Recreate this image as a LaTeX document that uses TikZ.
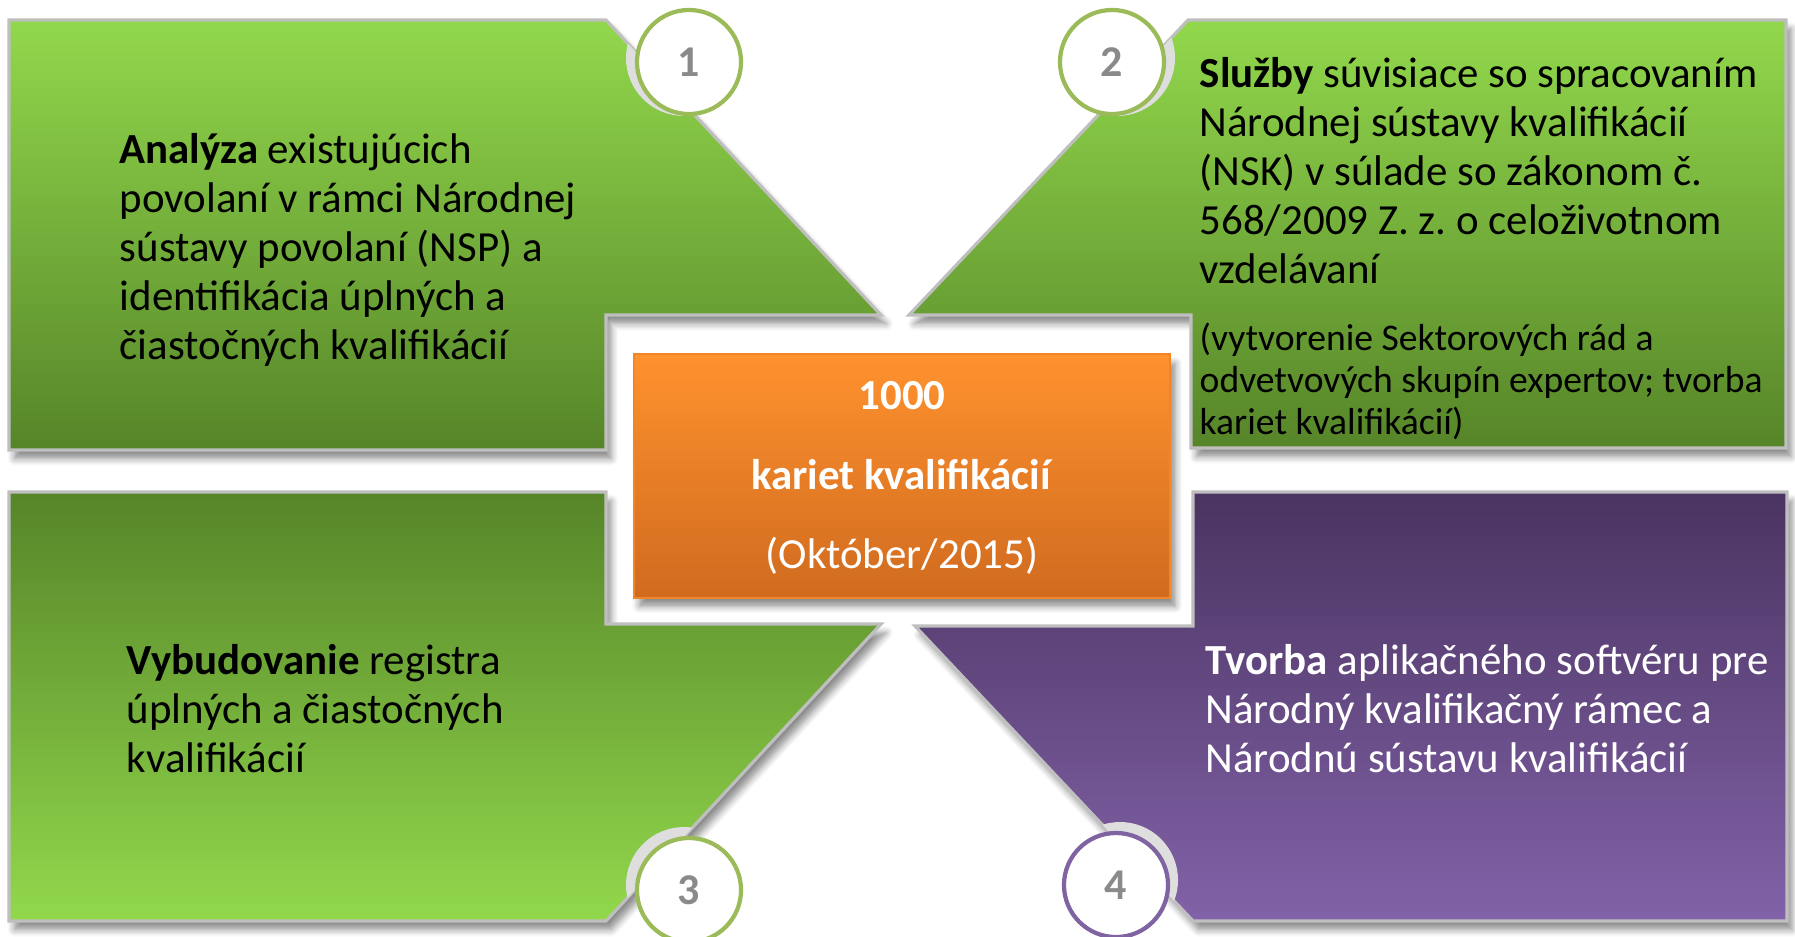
\documentclass[tikz,border=0pt]{standalone}
\usepackage{fontspec}
\setmainfont{Carlito}
\usetikzlibrary{shadows.blur}
\frenchspacing

\definecolor{grnlight}{HTML}{92D84C}
\definecolor{grndark}{HTML}{568529}
\definecolor{purdark}{HTML}{4A3461}
\definecolor{purlight}{HTML}{8262A8}
\definecolor{orglight}{HTML}{FF922E}
\definecolor{orgdark}{HTML}{D06B1F}
\definecolor{ringgreen}{HTML}{9BBB59}
\definecolor{ringpurple}{HTML}{8064A2}
\definecolor{edgegray}{HTML}{BFBFBF}
\definecolor{numgray}{HTML}{8A8A8A}

\tikzset{
	panel/.style = {draw = edgegray, line width = 0.9pt, blur shadow = {shadow xshift = 1.5pt, shadow yshift = -2.5pt, shadow blur steps = 6, shadow opacity = 45}},
	ring/.style = {circle, minimum size = 1.04cm, inner sep = 0pt, fill = white, line width = 1.2pt, text = numgray, font = \fontsize{12.5}{14}\selectfont\bfseries},
	bodytext/.style = {anchor = base west, align = left, inner sep = 0pt, font = \fontsize{12.2}{13.9}\selectfont},
	smalltext/.style = {anchor = base west, align = left, inner sep = 0pt, font = \fontsize{10.7}{11.85}\selectfont}
}

\begin{document}
\begin{tikzpicture}[x = 0.01cm, y = -0.01cm]
	\useasboundingbox (0, 0) rectangle (1795, 936);
	
	% panel 1
	\path[panel, top color = grnlight, bottom color = grndark] (9, 20) -- (606, 20) -- (881, 315) -- (606, 315) -- (606, 450) -- (9, 450) -- cycle;
	\begin{scope}
		\clip (9, 20) -- (606, 20) -- (881, 315) -- (606, 315) -- (606, 450) -- (9, 450) -- cycle;
		\fill[black!13] (684, 58) circle (58);
	\end{scope}
	
	% panel 2
	\path[panel, top color = grnlight, bottom color = grndark] (1188, 20) -- (1786, 20) -- (1786, 448) -- (1191, 448) -- (1191, 315) -- (909, 315) -- cycle;
	\begin{scope}
		\clip (1188, 20) -- (1786, 20) -- (1786, 448) -- (1191, 448) -- (1191, 315) -- (909, 315) -- cycle;
		\fill[black!13] (1117, 58) circle (58);
	\end{scope}
	
	% panel 3
	\path[panel, top color = grndark, bottom color = grnlight] (9, 492) -- (606, 492) -- (606, 624) -- (881, 624) -- (606, 921) -- (9, 921) -- cycle;
	\begin{scope}
		\clip (9, 492) -- (606, 492) -- (606, 624) -- (881, 624) -- (606, 921) -- (9, 921) -- cycle;
		\fill[black!13] (684, 885) circle (58);
	\end{scope}
	
	% panel 4
	\path[panel, top color = purdark, bottom color = purlight] (1193, 492) -- (1787, 492) -- (1787, 921) -- (1193, 921) -- (915, 626) -- (1193, 626) -- cycle;
	\begin{scope}
		\clip (1193, 492) -- (1787, 492) -- (1787, 921) -- (1193, 921) -- (915, 626) -- (1193, 626) -- cycle;
		\fill[black!13] (1120, 880) circle (58);
	\end{scope}
	
	% centre box
	\node[rectangle, minimum width = 5.36cm, minimum height = 2.43cm, top color = orglight, bottom color = orgdark, draw = orglight!70!orgdark, line width = 0.6pt, blur shadow = {shadow xshift = 1.5pt, shadow yshift = -2.5pt, shadow blur steps = 6, shadow opacity = 45}, text = white, align = center, font = \fontsize{12.2}{22.6}\selectfont] (total) at (902, 476) {\rule{0pt}{9.2pt}\textbf{1000}\\\textbf{kariet kvalifikácií}\\(Október/2015)};
	
	% numbers
	\node[ring, draw = ringgreen] (c1) at (689, 62) {1};
	\node[ring, draw = ringgreen] (c2) at (1112, 62) {2};
	\node[ring, draw = ringgreen] (c3) at (689, 890) {3};
	\node[ring, draw = ringpurple] (c4) at (1116, 885) {4};
	
	% texts (placed at the baseline of their last line)
	\node[bodytext] (t1) at (119, 359) {\textbf{Analýza} existujúcich\\povolaní v rámci Národnej\\sústavy povolaní (NSP) a\\identifikácia úplných a\\čiastočných kvalifikácií};
	\node[bodytext] (t2) at (1199, 283) {\textbf{Služby} súvisiace so spracovaním\\Národnej sústavy kvalifikácií\\(NSK) v súlade so zákonom č.\\568/2009 Z. z. o celoživotnom\\vzdelávaní};
	\node[smalltext] (t2b) at (1199, 434) {(vytvorenie Sektorových rád a\\odvetvových skupín expertov; tvorba\\kariet kvalifikácií)};
	\node[bodytext] (t3) at (126, 772) {\textbf{Vybudovanie} registra\\úplných a čiastočných\\kvalifikácií};
	\node[bodytext, text = white] (t4) at (1205, 772) {\textbf{Tvorba} aplikačného softvéru pre\\Národný kvalifikačný rámec a\\Národnú sústavu kvalifikácií};
\end{tikzpicture}
\end{document}
